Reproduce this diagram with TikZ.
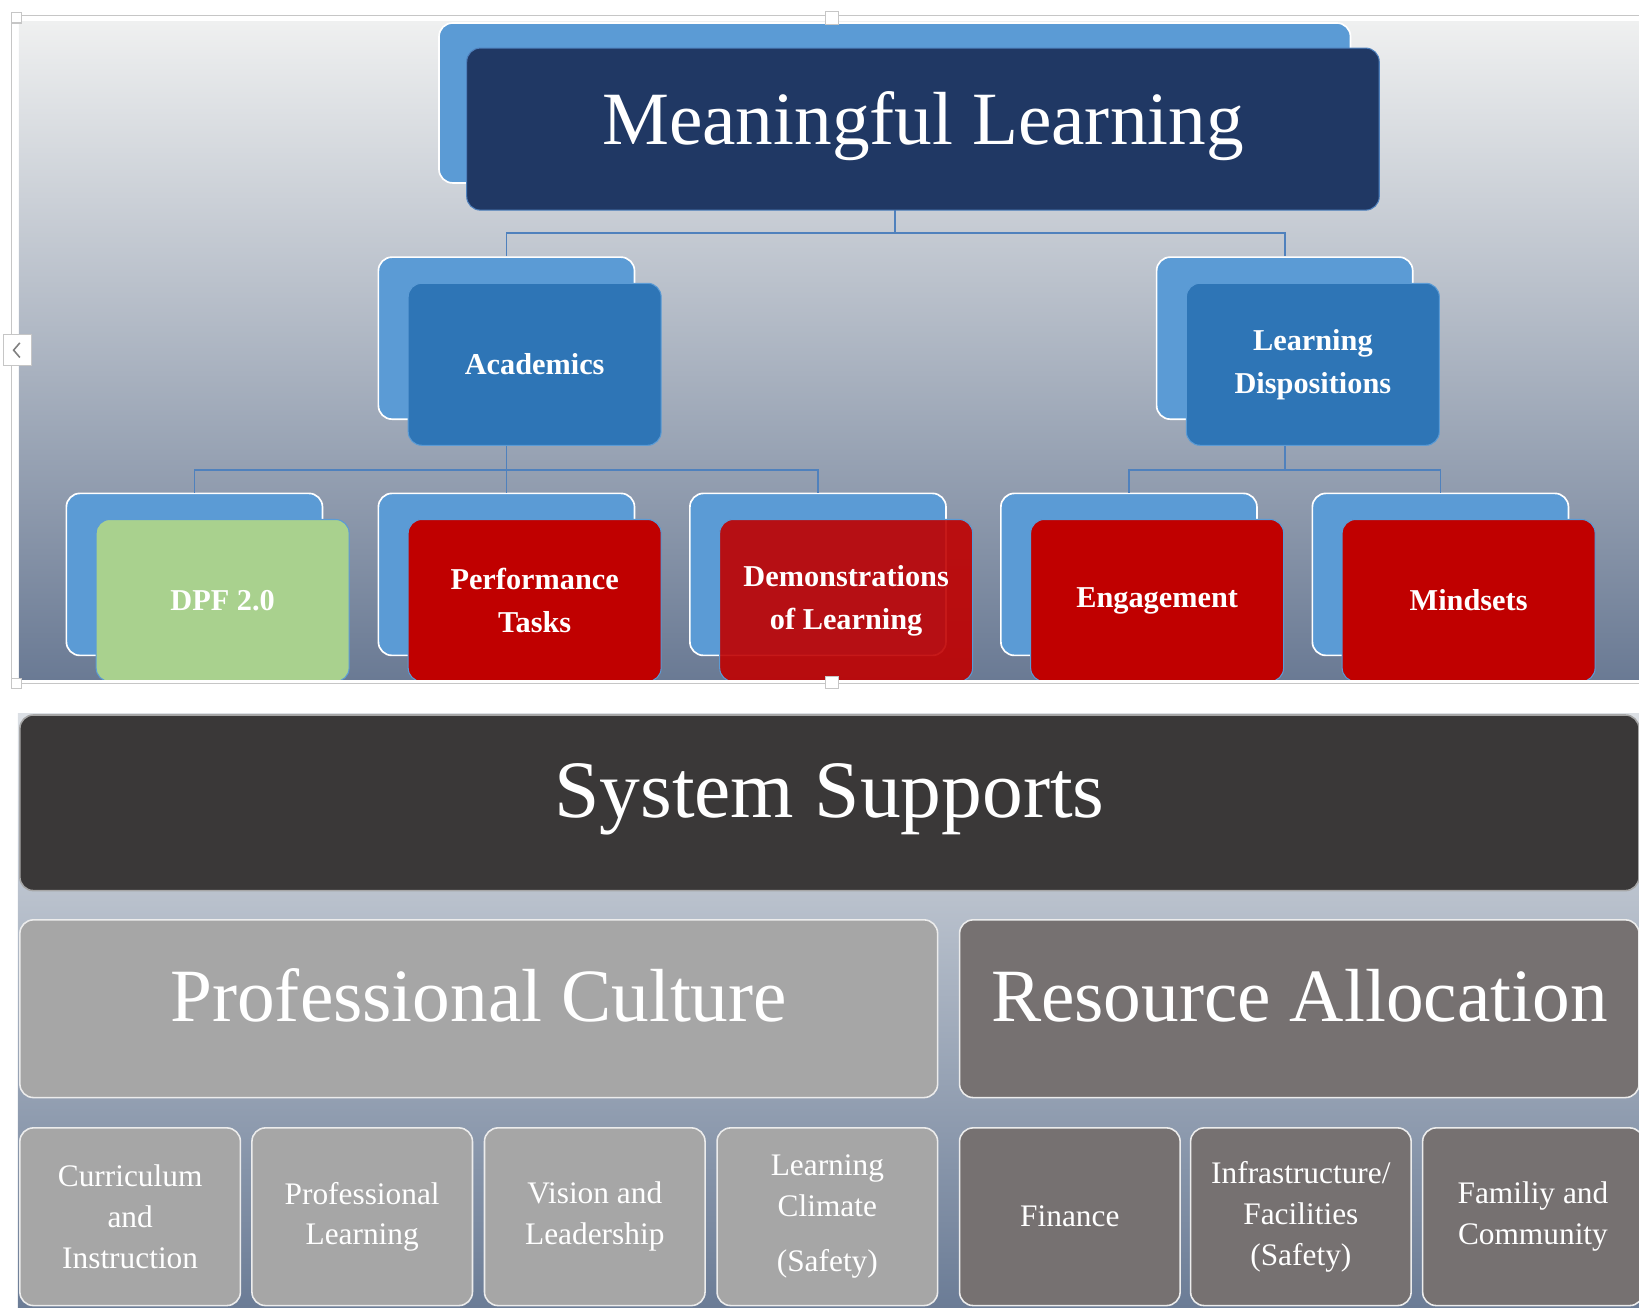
\documentclass[tikz,border=0pt]{standalone}
\usepackage{fontspec}
\setmainfont{Liberation Serif}
\usepackage{tikz}
\usetikzlibrary{positioning}
\definecolor{navy}{HTML}{203864}
\definecolor{backblue}{HTML}{5B9BD5}
\definecolor{midblue}{HTML}{2E75B6}
\definecolor{linkblue}{HTML}{4F81BD}
\definecolor{darkred}{HTML}{C00000}
\definecolor{leafgreen}{HTML}{A9D18E}
\definecolor{charcoal}{HTML}{3A3838}
\definecolor{lightgrey}{HTML}{A6A6A6}
\definecolor{warmgrey}{HTML}{767171}
\definecolor{bgtop}{HTML}{EFF0F0}
\definecolor{bgmid}{HTML}{B5BCC7}
\definecolor{bgbot}{HTML}{6A7A94}
\definecolor{lowtop}{HTML}{DCE0E5}
\definecolor{lowmid}{HTML}{BEC5CF}
\definecolor{lowbot}{HTML}{6B7C96}
\definecolor{framegrey}{HTML}{C6C6C6}

\begin{document}
\begin{tikzpicture}[x=1pt,y=-1pt
  ,link/.style={draw=linkblue,line width=1.6pt}
  ,semithick]
  \tikzstyle{back}=[rectangle,rounded corners=13pt,fill=backblue,draw=white,
    line width=1.6pt,minimum width=245pt,minimum height=155pt,inner sep=0pt]
  \tikzstyle{front}=[rectangle,rounded corners=13pt,draw=backblue,line width=1pt,
    minimum width=242pt,minimum height=155pt,inner sep=0pt,text=white,align=center,
    xshift=27pt,yshift=-25pt,font=\bfseries\fontsize{29}{41}\selectfont]
  \tikzstyle{bar}=[rectangle,rounded corners=13pt,draw=white!85!gray,line width=1.5pt,
    inner sep=0pt,text=white,minimum height=170pt,text height=48pt,text depth=24pt,
    font=\fontsize{72}{80}\selectfont]
  \tikzstyle{cell}=[rectangle,rounded corners=13pt,draw=white!85!gray,line width=1.5pt,
    inner sep=0pt,text=white,align=center,minimum width=211pt,minimum height=170pt,
    font=\fontsize{30}{39}\selectfont]

  \useasboundingbox (0,0) rectangle (1568,1251);
  \clip (0,0) rectangle (1568,1251);

  % upper part: learning chart
  \shade[top color=bgtop,middle color=bgmid,bottom color=bgbot] (18,21) rectangle (1568,650);
  \begin{scope}
  \clip (18,21) rectangle (1568,650);
  \node[back,minimum width=872pt,minimum height=153pt] (mlb) at (856,98.5) {};
  \node[back] (acb) at (484.5,323.5) {};
  \node[back] (ldb) at (1229,323.5) {};
  \node[back] (dpfb) at (186,549.5) {};
  \node[back] (pfb)  at (484.5,549.5) {};
  \node[back] (dlb)  at (782.5,549.5) {};
  \node[back] (enb)  at (1080,549.5) {};
  \node[back] (msb)  at (1378,549.5) {};

  \path[link]
  (mlb.south) -- ++(0,47) -| (acb.north)
  (mlb.south) -- ++(0,47) -| (ldb.north)
  (acb.south) -- ++(0,48) -| (dpfb.north)
  (acb.south) -- ++(0,48) -| (pfb.north)
  (acb.south) -- ++(0,48) -| (dlb.north)
  (ldb.south) -- ++(0,48) -| (enb.north)
  (ldb.south) -- ++(0,48) -| (msb.north)
  ;

  \node[front,fill=navy,draw=linkblue,minimum width=873pt,
    text height=48pt,text depth=19pt,font=\fontsize{72}{80}\selectfont]
    (ml) at (mlb) {Meaningful Learning};
  \node[front,fill=midblue] (ac) at (acb) {Academics};
  \node[front,fill=midblue] (ld) at (ldb) {Learning\\Dispositions};
  \node[front,fill=leafgreen] (dpf) at (dpfb) {DPF 2.0};
  \node[front,fill=darkred] (pf) at (pfb) {Performance\\Tasks};
  \node[front,fill=darkred,fill opacity=0.9,text opacity=1] (dl) at (dlb) {Demonstrations\\of Learning};
  \node[front,fill=darkred] (en) at (enb) {Engagement};
  \node[front,fill=darkred] (ms) at (msb) {Mindsets};
  \end{scope}

  % selection frame
  \draw[framegrey,line width=1.5pt] (1568,15) -- (11,15) -- (11,654) -- (1568,654);
  \draw[framegrey,fill=white,line width=1pt] (11,12) rectangle (21,22);
  \draw[framegrey,fill=white,line width=1pt] (790,11) rectangle (802,23);
  \draw[framegrey,fill=white,line width=1pt] (11,649) rectangle (21,659);
  \draw[framegrey,fill=white,line width=1pt] (790,647) rectangle (802,659);
  \draw[framegrey,fill=white,line width=1pt] (3,320) rectangle (30,350);
  \draw[gray,line width=1.5pt] (19,328) -- (13,335) -- (19,342);

  % lower part: system supports
  \shade[top color=lowtop,middle color=lowmid,bottom color=lowbot] (17,683) rectangle (1568,1251);
  \node[bar,fill=charcoal,draw=gray!70,minimum width=1549pt,minimum height=168pt,
    text height=52pt,font=\fontsize{78}{84}\selectfont]
    (ss) at (793.5,768) {System Supports};
  \node[bar,fill=lightgrey,minimum width=878pt] (pc) at (458,965) {Professional Culture};
  \node[bar,fill=warmgrey,minimum width=650pt] (ra) at (1243,965) {Resource Allocation};

  \node[cell,fill=lightgrey] (ci)  at (124.5,1164) {Curriculum\\and\\Instruction};
  \node[cell,fill=lightgrey] (pl)  at (346.5,1164) {Professional\\Learning};
  \node[cell,fill=lightgrey] (vl)  at (569,1164)   {Vision and\\Leadership};
  \node[cell,fill=lightgrey] (lc)  at (791.5,1164) {Learning\\Climate\\[14pt](Safety)};
  \node[cell,fill=warmgrey]  (fi)  at (1023.5,1164) {Finance};
  \node[cell,fill=warmgrey]  (inf) at (1244.5,1164) {Infrastructure/\\Facilities\\(Safety)};
  \node[cell,fill=warmgrey]  (fc)  at (1466.5,1164) {Familiy and\\Community};

\end{tikzpicture}
\end{document}
